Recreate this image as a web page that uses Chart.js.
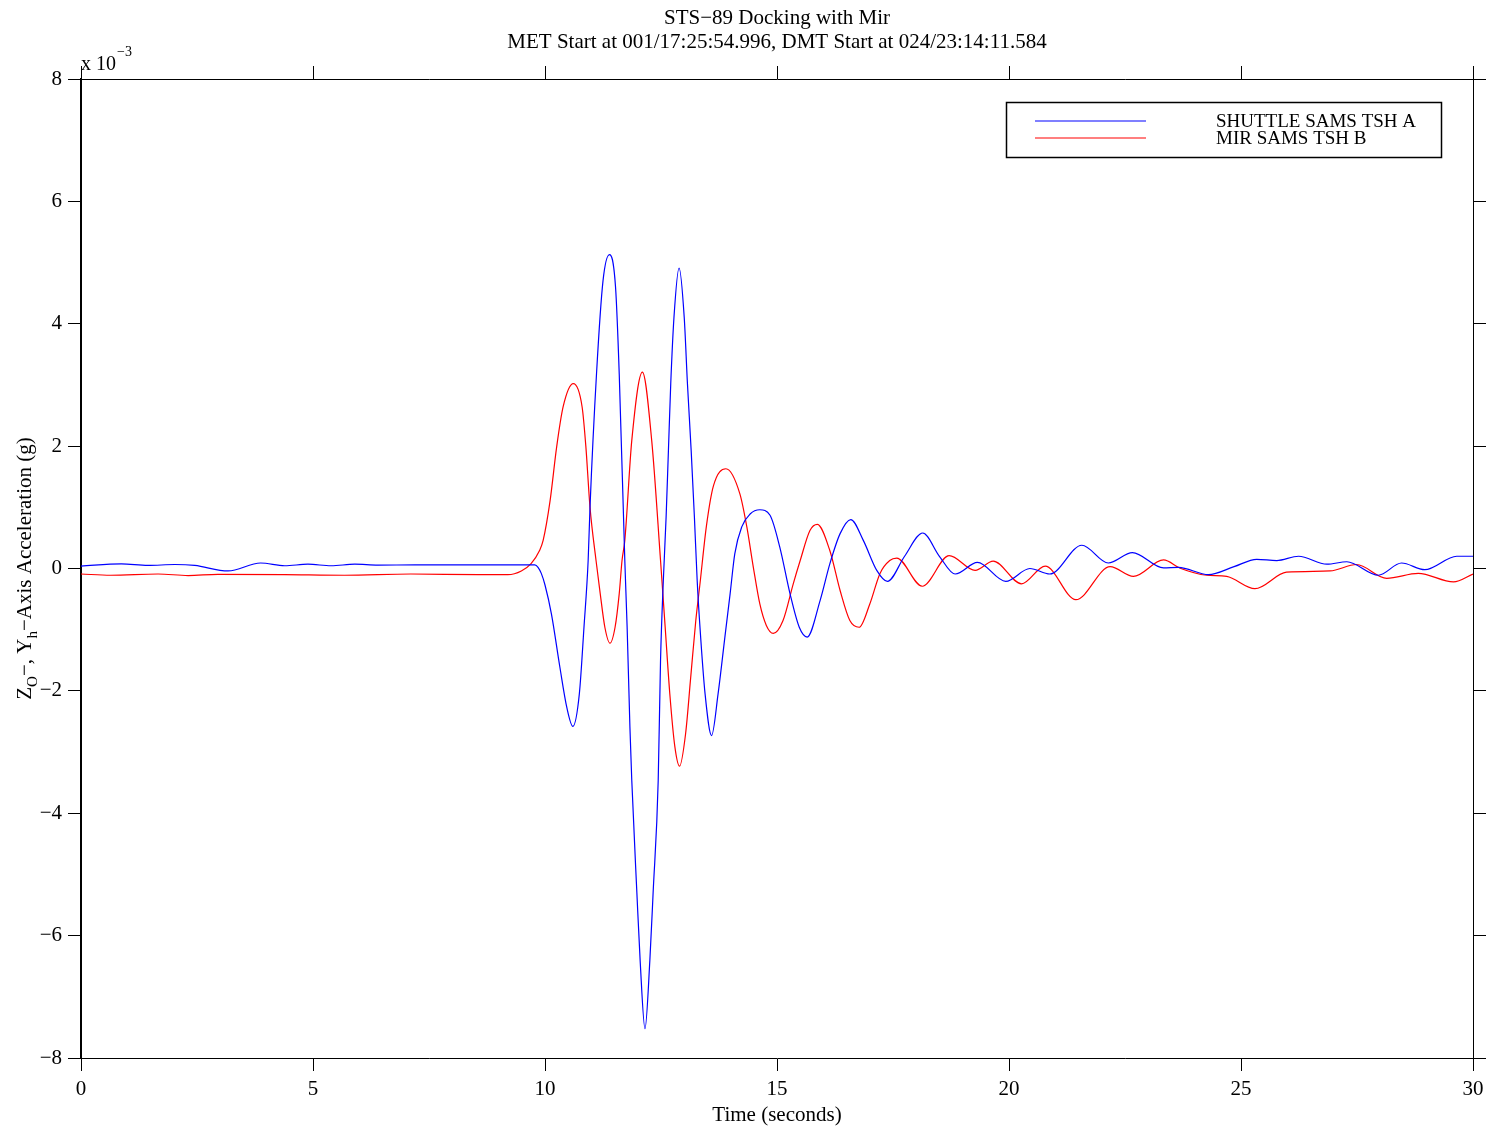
<!DOCTYPE html>
<html>
<head>
<meta charset="utf-8">
<title>STS-89 Docking with Mir</title>
<script src="https://cdn.jsdelivr.net/npm/chart.js@4.4.1/dist/chart.umd.min.js"></script>
<style>
  html, body { margin: 0; padding: 0; background: #fff; }
  #wrap { width: 1495px; height: 1135px; position: relative; }
</style>
</head>
<body>
<div id="wrap"><canvas id="chart"></canvas></div>
<script>
// Shuttle SAMS TSH A (x 10^-3 g) vs time (s)
const timeA = [0, 0.87, 1.44, 2.02, 2.45, 3.17, 3.87, 4.39, 4.89, 5.39, 5.90, 6.40, 7.2, 8.4, 9.70,
  9.78, 9.85, 9.92, 10.0, 10.14, 10.32, 10.47, 10.60, 10.74, 10.84, 10.93, 10.97, 11.11, 11.25, 11.39, 11.52,
  11.60, 11.72, 11.77, 11.83, 11.87, 11.98, 12.05, 12.155, 12.26, 12.33, 12.44, 12.49, 12.55, 12.61,
  12.66, 12.71, 12.78, 12.89, 13.0, 13.07, 13.15, 13.22, 13.28, 13.34, 13.45, 13.59, 13.73, 13.88,
  13.99, 14.09, 14.24, 14.42, 14.63, 14.85, 15.06, 15.28, 15.48, 15.65, 15.93, 16.14, 16.36, 16.59,
  16.86, 17.15, 17.38, 17.75, 18.14, 18.50, 18.84, 19.32, 19.93, 20.45, 20.88, 21.57, 22.14, 22.66,
  23.33, 23.65, 24.30, 24.85, 25.34, 25.77, 26.24, 26.85, 27.28, 27.96, 28.46, 28.96, 29.65, 30];
const shuttleA = [0.04, 0.077, 0.05, 0.065, 0.05, -0.04, 0.09, 0.045, 0.07, 0.045, 0.07, 0.055, 0.06, 0.06, 0.06,
  0.06, 0.02, -0.08, -0.27, -0.75, -1.61, -2.27, -2.58, -2.05, -0.96, 0.13, 1.0, 3.18, 4.7, 5.13, 4.6,
  3.18, 0.13, -0.96, -2.59, -3.46, -5.3, -6.4, -7.52, -6.4, -5.3, -3.46, -1.50, -0.20, 0.84,
  1.93, 3.02, 4.11, 4.91, 4.11, 3.02, 1.93, 0.84, -0.20, -0.96, -2.05, -2.73, -2.05, -1.10,
  -0.41, 0.24, 0.68, 0.89, 0.96, 0.87, 0.35, -0.41, -0.96, -1.12, -0.52, 0.08, 0.57, 0.80,
  0.46, -0.03, -0.21, 0.20, 0.58, 0.20, -0.09, 0.10, -0.21, 0.0, -0.09, 0.38, 0.09, 0.26,
  0.01, 0.02, -0.10, 0.03, 0.15, 0.13, 0.20, 0.07, 0.11, -0.11, 0.09, -0.02, 0.20, 0.20];

// Mir SAMS TSH B (x 10^-3 g) vs time (s)
const timeB = [0, 0.64, 1.66, 2.31, 2.95, 4.39, 5.68, 7.11, 8.56, 9.20, 9.49, 9.70, 9.88, 9.96, 10.11,
  10.25, 10.39, 10.61, 10.80, 10.88, 10.97, 11.10, 11.19, 11.29, 11.40, 11.51, 11.60, 11.66, 11.72,
  11.87, 12.10, 12.30, 12.49, 12.59, 12.69, 12.80, 12.90, 13.03, 13.14, 13.25, 13.34, 13.48, 13.63,
  13.90, 14.20, 14.35, 14.49, 14.63, 14.77, 14.92, 15.13, 15.35, 15.50, 15.71, 15.87, 16.14, 16.36, 16.57,
  16.77, 17.0, 17.22, 17.43, 17.58, 18.13, 18.71, 19.27, 19.66, 20.27, 20.78, 21.44, 22.18, 22.68, 23.33,
  23.69, 24.26, 24.69, 25.30, 25.98, 26.92, 27.49, 28.14, 28.82, 29.58, 30];
const mirB = [-0.09, -0.11, -0.09, -0.115, -0.095, -0.10, -0.11, -0.09, -0.10, -0.10, -0.04, 0.08, 0.29, 0.46, 1.11,
  1.98, 2.64, 3.02, 2.64, 2.0, 1.0, 0.13, -0.41, -0.96, -1.22, -0.96, -0.41, 0.13, 0.46,
  2.09, 3.21, 2.09, 0.13, -0.96, -2.05, -2.92, -3.23, -2.70, -1.78, -0.85, -0.25, 0.70, 1.35,
  1.63, 1.22, 0.68, 0.02, -0.58, -0.93, -1.06, -0.85, -0.25, 0.13, 0.62, 0.72, 0.29, -0.36, -0.85,
  -0.96, -0.58, -0.08, 0.13, 0.17, -0.29, 0.21, -0.03, 0.12, -0.25, 0.04, -0.51, 0.03, -0.13, 0.14,
  0.005, -0.11, -0.13, -0.33, -0.06, -0.04, 0.065, -0.16, -0.08, -0.22, -0.09];

const xTicks = [0, 5, 10, 15, 20, 25, 30];
const yTicks = [-8, -6, -4, -2, 0, 2, 4, 6, 8];
const seriesNames = ['SHUTTLE SAMS TSH A', 'MIR SAMS TSH B'];
const seriesColors = ['#0000ff', '#ff0000'];
const titleLines = ['STS\u221289 Docking with Mir', 'MET Start at 001/17:25:54.996, DMT Start at 024/23:14:11.584'];

const SERIF = '"Liberation Serif", "DejaVu Serif", serif';

function toPoints(ts, vs) {
    return ts.map((t, i) => ({ x: t, y: vs[i] }));
}

// titles, y label with subscripts, exponent note and boxed legend
const decorations = {
    id: 'decorations',
    afterDraw(chart) {
        const ctx = chart.ctx;
        const area = chart.chartArea;
        const cx = (area.left + area.right) / 2;
        ctx.save();
        ctx.fillStyle = '#000';
        ctx.textAlign = 'center';
        ctx.textBaseline = 'middle';
        ctx.font = '21px ' + SERIF;
        ctx.fillText(titleLines[0], cx, 18);
        ctx.fillText(titleLines[1], cx, 42);

        // exponent
        ctx.textAlign = 'left';
        ctx.textBaseline = 'alphabetic';
        ctx.font = '20px ' + SERIF;
        ctx.fillText('x 10', 81, 70);
        const w10 = ctx.measureText('x 10').width;
        ctx.font = '14px ' + SERIF;
        ctx.fillText('\u22123', 81 + w10 + 1, 56);

        // y axis label, rotated
        const parts = [
            ['Z', false], ['O', true], ['\u2212, Y', false], ['h', true], ['\u2212Axis Acceleration (g)', false]
        ];
        const big = '21px ' + SERIF, small = '15px ' + SERIF;
        let total = 0;
        parts.forEach(p => { ctx.font = p[1] ? small : big; total += ctx.measureText(p[0]).width; });
        ctx.translate(31, (area.top + area.bottom) / 2);
        ctx.rotate(-Math.PI / 2);
        let px = -total / 2;
        parts.forEach(p => {
            ctx.font = p[1] ? small : big;
            ctx.fillText(p[0], px, p[1] ? 6 : 0);
            px += ctx.measureText(p[0]).width;
        });
        ctx.restore();

        // legend
        ctx.save();
        ctx.strokeStyle = '#000';
        ctx.lineWidth = 1.5;
        ctx.strokeRect(1006.5, 102.5, 435, 55);
        const rows = [121, 138];
        seriesNames.forEach((name, i) => {
            ctx.strokeStyle = seriesColors[i];
            ctx.lineWidth = 1.2;
            ctx.beginPath();
            ctx.moveTo(1035, rows[i]);
            ctx.lineTo(1146, rows[i]);
            ctx.stroke();
            ctx.fillStyle = '#000';
            ctx.font = '19px ' + SERIF;
            ctx.textAlign = 'left';
            ctx.textBaseline = 'middle';
            ctx.fillText(name, 1216, rows[i] + 1);
        });
        ctx.restore();
    }
};

const frameGrid = { drawOnChartArea: false, drawTicks: true, tickLength: 13, color: '#000', tickColor: '#000', tickWidth: 1 };
const tickFont = { family: SERIF, size: 21 };
const minus = v => String(v).replace('-', '\u2212');

new Chart(document.getElementById('chart'), {
    type: 'line',
    data: {
        datasets: [
            {
                label: seriesNames[0],
                data: toPoints(timeA, shuttleA),
                borderColor: seriesColors[0],
                borderWidth: 1.2,
                pointRadius: 0,
                cubicInterpolationMode: 'monotone',
                fill: false,
                xAxisID: 'x',
                yAxisID: 'y'
            },
            {
                label: seriesNames[1],
                data: toPoints(timeB, mirB),
                borderColor: seriesColors[1],
                borderWidth: 1.2,
                pointRadius: 0,
                cubicInterpolationMode: 'monotone',
                fill: false,
                xAxisID: 'x',
                yAxisID: 'y'
            }
        ]
    },
    options: {
        responsive: true,
        maintainAspectRatio: false,
        animation: false,
        layout: { padding: { top: 65, left: 0, right: 0, bottom: 0 } },
        plugins: {
            legend: { display: false },
            title: { display: false },
            tooltip: { enabled: false }
        },
        scales: {
            x: {
                type: 'linear',
                position: 'bottom',
                min: 0, max: 30,
                afterBuildTicks: s => { s.ticks = xTicks.map(v => ({ value: v })); },
                ticks: { color: '#000', font: tickFont, padding: 6, maxRotation: 0, callback: minus },
                grid: frameGrid,
                border: { display: true, color: '#000', width: 1 },
                title: { display: true, text: 'Time (seconds)', color: '#000', font: { family: SERIF, size: 21 }, padding: { top: 0, bottom: 7 } },
                afterFit: s => { s.height = 77; }
            },
            xTop: {
                type: 'linear',
                position: 'top',
                min: 0, max: 30,
                afterBuildTicks: s => { s.ticks = xTicks.map(v => ({ value: v })); },
                ticks: { display: false },
                grid: frameGrid,
                border: { display: true, color: '#000', width: 1 },
                afterFit: s => { s.height = 14; }
            },
            y: {
                type: 'linear',
                position: 'left',
                min: -8, max: 8,
                afterBuildTicks: s => { s.ticks = yTicks.map(v => ({ value: v })); },
                ticks: { color: '#000', font: tickFont, padding: 6, callback: minus },
                grid: frameGrid,
                border: { display: true, color: '#000', width: 2 },
                afterFit: s => { s.width = 81; }
            },
            yRight: {
                type: 'linear',
                position: 'right',
                min: -8, max: 8,
                afterBuildTicks: s => { s.ticks = yTicks.map(v => ({ value: v })); },
                ticks: { display: false },
                grid: frameGrid,
                border: { display: true, color: '#000', width: 1 },
                afterFit: s => { s.width = 22; }
            }
        }
    },
    plugins: [decorations]
});
</script>
</body>
</html>
